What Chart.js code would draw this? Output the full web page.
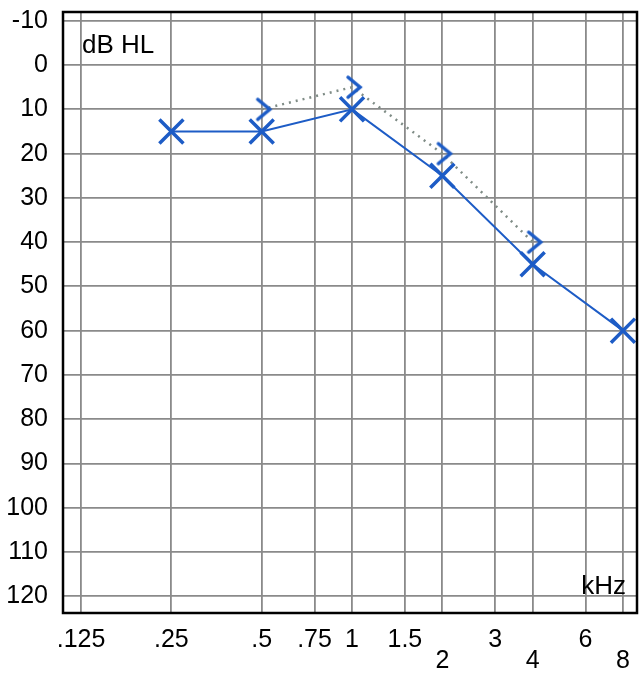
<!DOCTYPE html>
<html>
<head>
<meta charset="utf-8">
<script src="https://cdn.jsdelivr.net/npm/chart.js@4/dist/chart.umd.min.js"></script>
<style>
  html, body { margin: 0; padding: 0; background: #fff; }
  #wrap { position: relative; width: 641px; height: 676px; }
</style>
</head>
<body>
<div id="wrap"><canvas id="audiogram"></canvas></div>
<script>
// frequencies (kHz) and the labels printed under them
const freqTicks = [0.125, 0.25, 0.5, 0.75, 1, 1.5, 2, 3, 4, 6, 8];
const freqLabels = ['.125', '.25', '.5', '.75', '1', '1.5', '2', '3', '4', '6', '8'];
const lowerRowFreqs = [2, 4, 8];
const dbTicks = [-10, 0, 10, 20, 30, 40, 50, 60, 70, 80, 90, 100, 110, 120];

// air conduction (X)
const airFreq = [0.25, 0.5, 1, 2, 4, 8];
const airDb = [15, 15, 10, 25, 45, 60];
// bone conduction (>)
const boneFreq = [0.5, 1, 2, 4];
const boneDb = [10, 5, 20, 40];

const blue = '#1d5cc6';

// ">" symbol as an image point style (sits a little right of the frequency line)
function boneSymbol() {
  const c = document.createElement('canvas');
  c.width = 30; c.height = 30;
  const g = c.getContext('2d');
  g.strokeStyle = blue;
  g.lineWidth = 3.5;
  g.lineJoin = 'miter';
  g.lineCap = 'round';
  g.beginPath();
  g.moveTo(11, 5);
  g.lineTo(23, 15);
  g.lineTo(11, 25);
  g.stroke();
  return c;
}

const frame = {
  id: 'frame',
  afterDraw(chart) {
    const {ctx, chartArea: a} = chart;
    ctx.save();
    ctx.strokeStyle = '#000';
    ctx.lineWidth = 2.5;
    ctx.strokeRect(a.left, a.top, a.right - a.left, a.bottom - a.top);
    ctx.fillStyle = '#000';
    ctx.font = '26px "Liberation Sans", Arial, sans-serif';
    ctx.textBaseline = 'alphabetic';
    ctx.textAlign = 'left';
    ctx.fillText('dB HL', a.left + 19, a.top + 41);
    ctx.textAlign = 'right';
    ctx.fillText('kHz', a.right - 11, a.bottom - 19);
    ctx.restore();
  }
};

const ctx = document.getElementById('audiogram').getContext('2d');
new Chart(ctx, {
  type: 'scatter',
  data: {
    datasets: [
      {
        label: 'Air',
        data: airFreq.map((f, i) => ({x: f, y: airDb[i]})),
        showLine: true,
        borderColor: blue,
        borderWidth: 2,
        pointStyle: 'crossRot',
        pointRadius: 17,
        pointBorderWidth: 3.5,
        pointBorderColor: blue,
        tension: 0,
        order: 1
      },
      {
        label: 'Bone',
        data: boneFreq.map((f, i) => ({x: f, y: boneDb[i]})),
        showLine: true,
        borderColor: '#7f8c86',
        borderWidth: 2.5,
        borderDash: [2, 5],
        pointStyle: boneSymbol(),
        pointRadius: 10,
        tension: 0,
        order: 2
      }
    ]
  },
  options: {
    responsive: true,
    maintainAspectRatio: false,
    animation: false,
    layout: { autoPadding: false, padding: { top: 12, right: 4, left: 0, bottom: 0 } },
    plugins: {
      legend: { display: false },
      tooltip: { enabled: false }
    },
    scales: {
      x: {
        type: 'logarithmic',
        min: 0.1088,
        max: 8.91,
        afterBuildTicks: s => { s.ticks = freqTicks.map(v => ({value: v})); },
        afterFit: s => { s.height = 63; s.paddingLeft = 0; s.paddingRight = 0; },
        grid: { color: '#8a8a8a', lineWidth: 1.8, drawTicks: false },
        border: { display: false },
        ticks: {
          autoSkip: false,
          maxRotation: 0,
          padding: 17,
          color: '#000',
          font: { family: '"Liberation Sans", Arial, sans-serif', size: 25, lineHeight: 0.84 },
          callback: function(value) {
            const i = freqTicks.indexOf(value);
            if (i < 0) return '';
            return lowerRowFreqs.includes(value) ? ['', freqLabels[i]] : freqLabels[i];
          }
        }
      },
      y: {
        type: 'linear',
        reverse: true,
        min: -12,
        max: 123.8,
        afterBuildTicks: s => { s.ticks = dbTicks.map(v => ({value: v})); },
        afterFit: s => { s.width = 63; s.paddingTop = 0; s.paddingBottom = 0; },
        grid: { color: '#8a8a8a', lineWidth: 1.8, drawTicks: false },
        border: { display: false },
        ticks: {
          padding: 15,
          color: '#000',
          font: { family: '"Liberation Sans", Arial, sans-serif', size: 25 }
        }
      }
    }
  },
  plugins: [frame]
});
</script>
</body>
</html>
